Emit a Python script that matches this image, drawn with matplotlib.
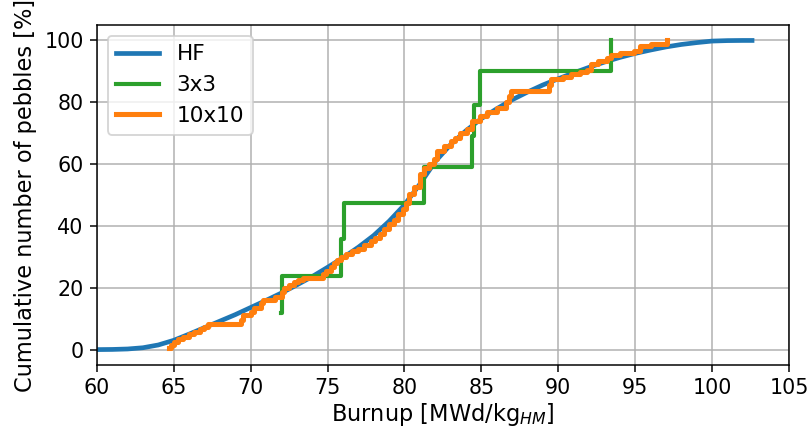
import matplotlib
matplotlib.use("Agg")
import matplotlib.pyplot as plt

# HF - continuous cumulative distribution
hf_burnup = [60, 61, 62, 63, 64, 65, 66, 67, 68, 69, 70, 71, 72, 73, 74, 75,
             76, 77, 78, 79, 80, 81, 82, 83, 84, 85, 86, 87, 88, 89, 90, 91,
             92, 93, 94, 95, 96, 97, 98, 99, 100, 101, 102, 102.6]
hf_cum = [0, 0.05, 0.2, 0.6, 1.5, 3.0, 5.0, 7.1, 9.2, 11.3, 13.6, 15.9, 18.3,
          20.9, 23.6, 26.6, 29.7, 33.1, 36.9, 41.5, 46.8, 53.5, 60.8, 66.3,
          70.8, 74.7, 77.9, 80.8, 83.3, 85.6, 87.6, 89.5, 91.3, 93.0, 94.5,
          95.8, 96.9, 97.9, 98.7, 99.3, 99.8, 99.95, 100, 100]

# 3x3 - step distribution
b3_burnup = [72.0, 72.02, 75.85, 76.05, 81.3, 84.39, 84.5, 84.94, 93.42, 93.42]
b3_cum = [11.9, 23.8, 35.7, 47.3, 59.2, 69.0, 79.0, 90.2, 90.2, 100]

# 10x10 - step distribution
b10_burnup = [64.7, 64.8, 65.0, 65.3, 65.6, 66.0, 66.3, 66.7, 67.0, 67.2,
              69.35, 69.5, 70.0, 70.2, 70.65, 70.8, 71.6, 72.05, 72.2, 72.5,
              72.8, 73.1, 73.4, 74.7, 74.9, 75.2, 75.4, 75.6, 75.85, 76.2,
              76.6, 77.0, 77.4, 77.8, 78.1, 78.4, 78.7, 79.0, 79.3, 79.6,
              79.9, 80.1, 80.3, 80.6, 81.0, 81.3, 81.6, 81.9, 82.1, 82.55,
              83.0, 83.3, 83.6, 84.1, 84.4, 84.9, 85.4, 86.0, 86.6, 86.8,
              86.9, 89.4, 89.5, 90.3, 90.8, 91.4, 91.9, 92.1, 92.6, 93.2,
              93.4, 94.0, 94.9, 95.3, 96.0, 97.1]
b10_cum = [0.5, 1.5, 2.5, 3.3, 4.2, 5.0, 5.8, 6.6, 7.4, 8.3,
           9.5, 11.3, 12.3, 13.5, 15.2, 16.2, 17.0, 18.5, 19.8, 20.8,
           21.8, 22.6, 23.3, 24.3, 25.5, 26.8, 28.0, 29.0, 30.0, 30.8,
           31.8, 32.6, 33.7, 35.0, 36.2, 37.5, 39.0, 40.5, 42.0, 43.8,
           45.5, 47.5, 50.2, 52.5, 56.7, 58.9, 60.0, 61.6, 64.3, 65.9,
           67.5, 68.6, 70.2, 71.3, 74.0, 75.6, 76.7, 78.0, 80.0, 82.0,
           83.7, 85.5, 87.5, 88.3, 89.0, 89.8, 90.6, 92.5, 93.3, 94.2,
           95.3, 95.8, 96.7, 98.3, 98.9, 100]

plt.rcParams['font.size'] = 11

fig = plt.figure(figsize=(6, 431 / 135), dpi=135)
ax = fig.add_axes([0.1195, 0.153, 0.8545, 0.789])

ax.plot(hf_burnup, hf_cum, color="#1f77b4", lw=2.5, label="HF")
ax.plot(b3_burnup, b3_cum, color="#2ca02c", lw=2.2, drawstyle="steps-post", label="3x3")
ax.plot(b10_burnup, b10_cum, color="#ff7f0e", lw=2.7, drawstyle="steps-post", label="10x10")

ax.set_xlim(60, 105)
ax.set_ylim(-5, 105)
ax.set_xticks(range(60, 106, 5))
ax.set_yticks(range(0, 101, 20))
ax.grid(True)
ax.set_xlabel("Burnup [MWd/kg$_{HM}$]", fontsize=12, labelpad=1.5)
ax.set_ylabel("Cumulative number of pebbles [%]", fontsize=12)
ax.legend(loc="upper left", fontsize=11.5)

fig.savefig("out.png", dpi=135)
